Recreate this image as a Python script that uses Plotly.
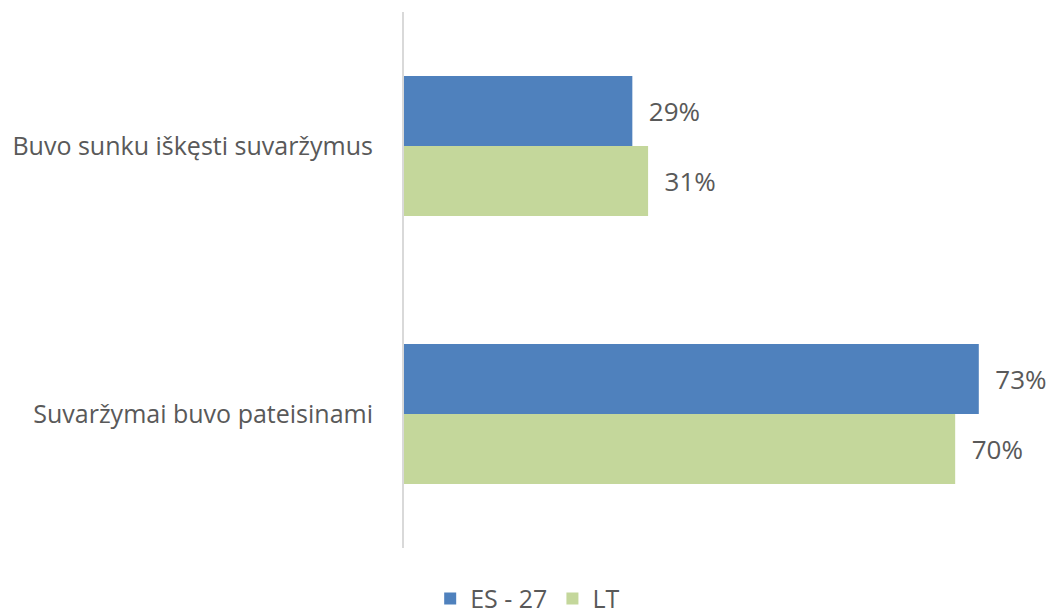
import plotly.graph_objects as go

categories = ["Buvo sunku iškęsti suvaržymus", "Suvaržymai buvo pateisinami"]
es27 = [0.29, 0.73]
lt = [0.31, 0.70]
series_names = ["ES - 27", "LT"]

FONT = "Open Sans"
TXT = "#595959"
PAD = "\u00a0" * 2

fig = go.Figure()
for name, vals, col in [(series_names[0], es27, "#4F81BD"), (series_names[1], lt, "#C4D79B")]:
    fig.add_trace(go.Bar(
        y=categories, x=vals, orientation="h", name=name,
        marker=dict(color=col, line=dict(width=0)),
        text=[PAD + f"{round(v*100)}%" for v in vals],
        textposition="outside", cliponaxis=False, constraintext="none",
        textfont=dict(family=FONT, size=26, color=TXT),
    ))

fig.update_layout(
    width=1047, height=616,
    margin=dict(l=404, r=6, t=12, b=68),
    paper_bgcolor="white", plot_bgcolor="white",
    barmode="group", bargap=0.478, bargroupgap=0,
    font=dict(family=FONT, color=TXT, size=25),
    legend=dict(orientation="h", xref="container", yref="container",
                x=0.504, xanchor="center", y=0.028, yanchor="middle",
                font=dict(family=FONT, size=25, color=TXT), traceorder="normal"),
    showlegend=True,
)
fig.update_xaxes(range=[0, 0.809], showgrid=False, showticklabels=False, zeroline=False, showline=False)
fig.update_yaxes(autorange="reversed", showline=True, linecolor="#D9D9D9", linewidth=2,
                 ticks="", ticklabelstandoff=24, tickfont=dict(family=FONT, size=25, color=TXT))

fig.write_html("out.html", config={"displayModeBar": False},
               post_script="document.body.style.margin='0';document.body.style.overflow='hidden';")
